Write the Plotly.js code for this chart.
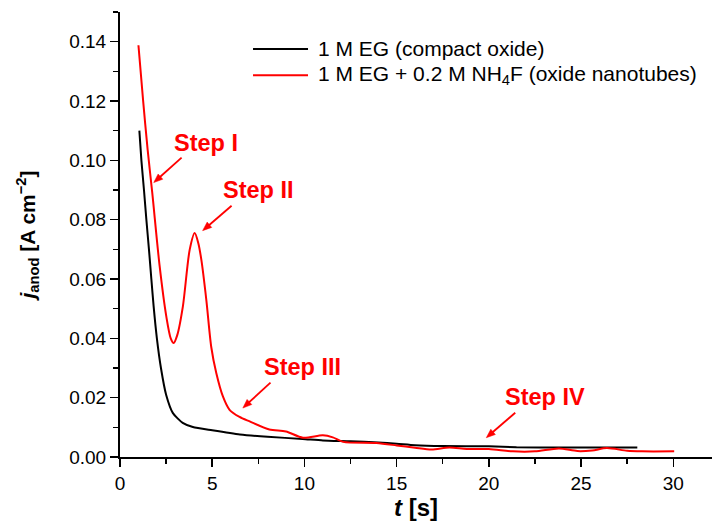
<!DOCTYPE html>
<html>
<head>
<meta charset="utf-8">
<script src="https://cdn.plot.ly/plotly-3.0.1.min.js"></script>
<style>
  html, body { margin: 0; padding: 0; background: #fff; }
  #chart { width: 713px; height: 522px; }
</style>
</head>
<body>
<div id="chart"></div>
<script>
// Anodic current density transients, t in seconds, j in A cm^-2
const compactName = "1 M EG (compact oxide)";
const compactT = [1.05, 1.16, 1.30, 1.43, 1.57, 1.70, 1.82, 2.00, 2.22, 2.50, 2.87, 3.40, 3.95,
  5.0, 6.5, 8.0, 9.9, 11.0, 12.5, 14.0, 15.0, 16.0, 17.5, 20.0, 21.5, 24.0, 26.0, 28.05];
const compactJ = [0.110, 0.100, 0.090, 0.080, 0.070, 0.060, 0.051, 0.040, 0.030, 0.021, 0.0148, 0.0115, 0.0101,
  0.0090, 0.0076, 0.0068, 0.0061, 0.0056, 0.0053, 0.0049, 0.0045, 0.0040, 0.0037, 0.0036, 0.0033, 0.0032, 0.0032, 0.0032];

const tubesName = "1 M EG + 0.2 M NH<sub>4</sub>F (oxide nanotubes)";
const tubesT = [1.00, 1.25, 1.50, 1.75, 2.15, 2.51, 2.75, 2.91, 3.10, 3.41, 3.78, 4.05, 4.25, 4.41, 4.68,
  4.95, 5.22, 5.58, 5.94, 6.48, 7.03, 8.1, 9.0, 9.92, 11.0, 11.54, 12.1, 13.9, 15.0, 16.0, 16.9,
  17.86, 18.8, 20.0, 21.3, 22.5, 23.8, 24.8, 25.6, 26.4, 27.5, 28.3, 30.05];
const tubesJ = [0.1388, 0.1204, 0.1035, 0.0890, 0.0643, 0.0474, 0.0400, 0.0384, 0.0410, 0.0508, 0.0699, 0.0755, 0.0720, 0.0665, 0.0530,
  0.0370, 0.0283, 0.0204, 0.0159, 0.0135, 0.0120, 0.0093, 0.0086, 0.0065, 0.0073, 0.0066, 0.0051, 0.0047, 0.0039, 0.0031, 0.0025,
  0.0032, 0.0027, 0.0027, 0.0019, 0.0019, 0.0029, 0.0020, 0.0022, 0.0030, 0.0021, 0.0019, 0.0019];

// Growth-stage labels: text position and arrow tail/head, in data units
const stepLabels = ["Step I", "Step II", "Step III", "Step IV"];
const stepTextT = [4.67, 7.49, 9.92, 23.06];
const stepTextJ = [0.1060, 0.0901, 0.0304, 0.0203];
const stepTailT = [3.34, 6.05, 8.16, 21.43];
const stepTailJ = [0.1009, 0.0847, 0.0251, 0.0149];
const stepHeadT = [1.83, 4.48, 6.66, 19.86];
const stepHeadJ = [0.0925, 0.0763, 0.0165, 0.0065];

const FONT = "Liberation Sans, Arial, sans-serif";
const RED = "#ff0000";

const W = 713, H = 522;
const M = { l: 120, r: 1, t: 12, b: 65 };
const X_RANGE = [0, 32.1];
const Y_RANGE = [0, 0.15];

const traces = [
  { x: compactT, y: compactJ, name: compactName, mode: "lines", showlegend: false,
    line: { color: "#000000", width: 2, shape: "spline", smoothing: 0.6 } },
  { x: tubesT, y: tubesJ, name: tubesName, mode: "lines", showlegend: false,
    line: { color: RED, width: 2, shape: "spline", smoothing: 0.8 } }
];

const annotations = [];
const shapes = [];

// pixels per data unit, used to give the arrowheads a fixed on-screen size
const pxPerT = (W - M.l - M.r) / (X_RANGE[1] - X_RANGE[0]);
const pxPerJ = (H - M.t - M.b) / (Y_RANGE[1] - Y_RANGE[0]);
const HEAD_LEN = 9, HEAD_W = 7;

stepLabels.forEach((txt, i) => {
  annotations.push({
    x: stepTextT[i], y: stepTextJ[i], xref: "x", yref: "y",
    text: "<b>" + txt + "</b>", showarrow: false,
    font: { family: FONT, size: 23.5, color: RED },
    xanchor: "center", yanchor: "middle"
  });
  const dx = (stepHeadT[i] - stepTailT[i]) * pxPerT;
  const dy = (stepHeadJ[i] - stepTailJ[i]) * pxPerJ;
  const len = Math.hypot(dx, dy);
  const ux = dx / len, uy = dy / len;
  const bx = -ux * HEAD_LEN, by = -uy * HEAD_LEN;
  const nx = -uy * HEAD_W / 2, ny = ux * HEAD_W / 2;
  const toT = p => stepHeadT[i] + p / pxPerT;
  const toJ = p => stepHeadJ[i] + p / pxPerJ;
  shapes.push({
    type: "line", xref: "x", yref: "y",
    x0: stepTailT[i], y0: stepTailJ[i], x1: toT(bx * 0.8), y1: toJ(by * 0.8),
    line: { color: RED, width: 1.8 }
  });
  shapes.push({
    type: "path", xref: "x", yref: "y",
    path: "M" + toT(0) + "," + toJ(0) +
          " L" + toT(bx + nx) + "," + toJ(by + ny) +
          " L" + toT(bx - nx) + "," + toJ(by - ny) + " Z",
    fillcolor: RED, line: { color: RED, width: 0.5 }
  });
});

// Hand-placed key in the upper part of the plot
const keyNames = [compactName, tubesName];
const keyColors = ["#000000", RED];
const keyY = [0.917, 0.858];
keyNames.forEach((name, i) => {
  shapes.push({
    type: "line", xref: "paper", yref: "paper",
    x0: 0.2247, x1: 0.3176, y0: keyY[i], y1: keyY[i],
    line: { color: keyColors[i], width: 2 }
  });
  annotations.push({
    x: 0.3311, y: keyY[i], xref: "paper", yref: "paper",
    text: name, showarrow: false, xanchor: "left", yanchor: "middle",
    font: { family: FONT, size: 21, color: "#000000" }
  });
});

const layout = {
  width: W, height: H,
  margin: M,
  paper_bgcolor: "#ffffff", plot_bgcolor: "#ffffff",
  font: { family: FONT, size: 19, color: "#000000" },
  showlegend: false,
  xaxis: {
    range: X_RANGE, dtick: 5, tick0: 0,
    showline: true, linewidth: 2, linecolor: "#000",
    ticks: "outside", ticklen: 8, tickwidth: 1.5, tickcolor: "#000",
    minor: { dtick: 2.5, ticks: "outside", ticklen: 5, tickwidth: 1.5, tickcolor: "#000" },
    showgrid: false, zeroline: false,
    tickfont: { family: FONT, size: 19 },
    title: { text: "<b><i>t</i> [s]</b>", font: { family: FONT, size: 24 }, standoff: 5 }
  },
  xaxis2: {
    overlaying: "x", side: "top", range: X_RANGE, dtick: 2.5, tick0: 0,
    showline: true, linewidth: 2, linecolor: "#000",
    ticks: "inside", ticklen: 3, tickwidth: 1, tickcolor: "#000",
    showticklabels: false, showgrid: false, zeroline: false
  },
  yaxis: {
    range: Y_RANGE, dtick: 0.02, tick0: 0, tickformat: ".2f",
    showline: true, linewidth: 2, linecolor: "#000",
    ticks: "outside", ticklen: 8, tickwidth: 1.5, tickcolor: "#000",
    minor: { dtick: 0.01, ticks: "outside", ticklen: 5, tickwidth: 1.5, tickcolor: "#000" },
    showgrid: false, zeroline: false,
    tickfont: { family: FONT, size: 19 },
    title: { text: "<b><i>j</i><sub>anod</sub> [A cm<sup>−2</sup>]</b>", font: { family: FONT, size: 21 }, standoff: 28 }
  },
  annotations: annotations,
  shapes: shapes
};

Plotly.newPlot("chart", traces, layout, { displayModeBar: false, staticPlot: true });
</script>
</body>
</html>
